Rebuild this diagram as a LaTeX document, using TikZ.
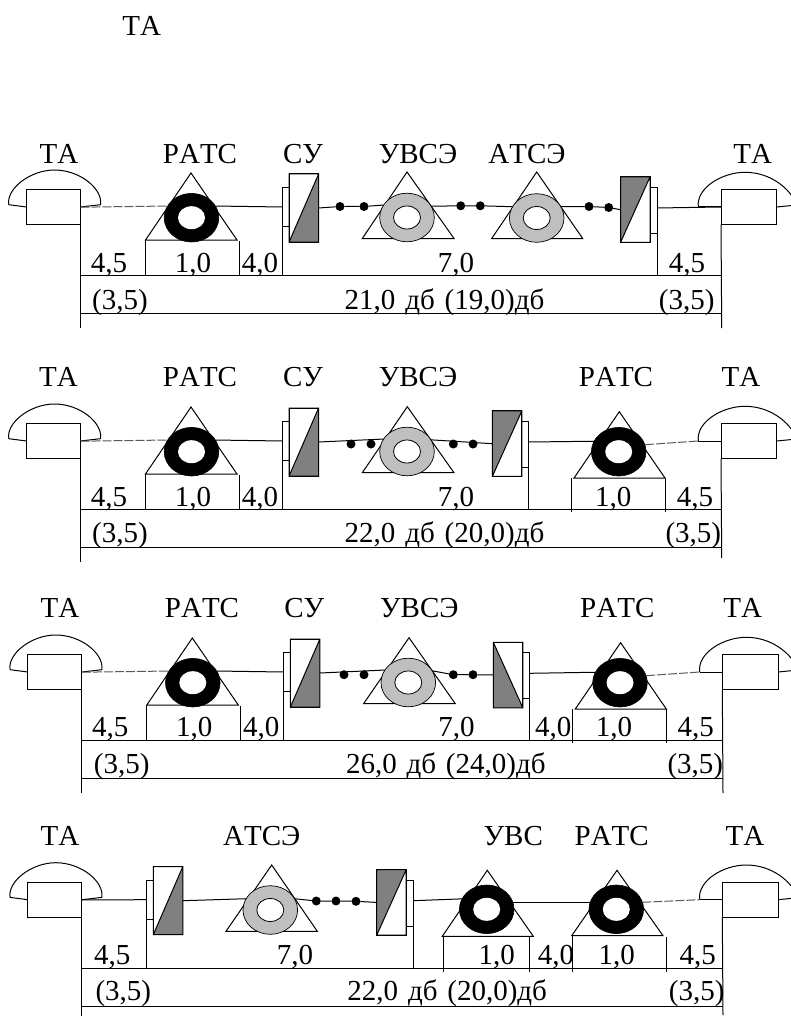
\documentclass[tikz,border=0pt]{standalone}
\usepackage{fontspec}
\setmainfont[Kerning=Off]{Liberation Serif}
\usetikzlibrary{shapes.geometric}
\newcount\lblc
\tikzset{
  ln/.style={line width=1pt,black},
  dashln/.style={line width=1pt,black!65,dash pattern=on 9pt off 2pt},
  lbl/.style={anchor=base,inner sep=0pt,outer sep=0pt,font=\fontsize{29}{30}\selectfont},
  outerblack/.style={ellipse,draw=black,fill=black,inner sep=0pt,outer sep=0pt,minimum width=54.6pt,minimum height=48.6pt,line width=0.6pt},
  outergray/.style={ellipse,draw=black,fill=black!25,inner sep=0pt,outer sep=0pt,minimum width=54.6pt,minimum height=48.6pt,line width=0.7pt},
  innerblack/.style={ellipse,fill=white,inner sep=0pt,outer sep=0pt,minimum width=27pt,minimum height=23pt},
  innergray/.style={ellipse,draw=black,fill=white,inner sep=0pt,outer sep=0pt,minimum width=27pt,minimum height=23pt,line width=0.8pt},
  blk/.style={rectangle,draw=black,fill=white,inner sep=0pt,outer sep=0pt,line width=1pt},
  dotnode/.style={circle,fill=black,inner sep=0pt,outer sep=0pt,minimum size=9pt},
}
\newcommand{\lbltxt}[3]{\global\advance\lblc by 1 \node[lbl] (t\the\lblc) at (#1,#2) {\spaceskip=0.34em\relax #3};}
% triangle: apex x, apex y, left, right, base y
\newcommand{\trng}[5]{\draw[ln] (#1,#2) -- (#3,#5) -- (#4,#5) -- cycle;}
% donut: name, kind, cx, cy
\newcommand{\donut}[4]{\node[outer#2] (#1) at (#3,#4) {}; \node[inner#2] (#1-i) at (#3,#4) {};}
\newcommand{\dotn}[3]{\node[dotnode] (#1) at (#2,#3) {};}
% SU with small block on the left: name, x of small block left side
\newcommand{\suL}[2]{%
  \node[blk,minimum width=6.6pt,minimum height=39.4pt] (#1-s) at ({#2+3.3},207) {};
  \node[blk,minimum width=29.5pt,minimum height=68pt] (#1) at ({#2+6.6+14.75},208) {};
  \fill[black!50] (#1.south west) -- (#1.north east) -- (#1.south east) -- cycle;
  \draw[ln,black] (#1.south west) -- (#1.north east) (#1.north west) rectangle (#1.south east);
  \draw[ln] (#1-s.south west) -- (#2,275.7);}
% SU with small block on the right: name, x of big block left side
\newcommand{\suR}[2]{%
  \node[blk,minimum width=7pt,minimum height=46pt] (#1-s) at ({#2+29.5+3.5},210.3) {};
  \node[blk,minimum width=29.5pt,minimum height=65.5pt] (#1) at ({#2+14.75},209.7) {};
  \coordinate (#1-p) at ({#2+36.5},208);
  \fill[black!50] (#1.south west) -- (#1.north east) -- (#1.north west) -- cycle;
  \draw[ln,black] (#1.south west) -- (#1.north east) (#1.north west) rectangle (#1.south east);
  \draw[ln] (#1-s.south east) -- ({#2+36.5},275.7);}
\newcommand{\suRb}[2]{%
  \node[blk,minimum width=7pt,minimum height=46pt] (#1-s) at ({#2+29.5+3.5},210.3) {};
  \node[blk,minimum width=29.5pt,minimum height=65.5pt] (#1) at ({#2+14.75},210) {};
  \coordinate (#1-p) at ({#2+36.5},208.3);
  \fill[black!50] (#1.north west) -- (#1.south east) -- (#1.south west) -- cycle;
  \draw[ln,black] (#1.north west) -- (#1.south east) (#1.north west) rectangle (#1.south east);
  \draw[ln] (#1-s.south east) -- ({#2+36.5},275.7);}
% frame: phones, base lines. #1 prefix, #2 bottom end of the right vertical
\newcommand{\frameRow}[2]{%
  \draw[ln] (26.5,207) -- (8.8,204.7) .. controls (6,189) and (30,170) .. (54.5,170)
     .. controls (80,170) and (103,189) .. (100.5,204.7) -- (80.5,207);
  \node[blk,minimum width=54pt,minimum height=35.2pt] (#1-pl) at (53.5,207.2) {};
  \draw[ln] (698.3,207) .. controls (696,188) and (722,172.3) .. (745,172.3)
     .. controls (770,172.3) and (790,188) .. (797,205) -- (776.7,207);
  \draw[ln] (721,207) -- (698.3,207);
  \node[blk,minimum width=55.7pt,minimum height=35pt] (#1-pr) at (748.85,207) {};
  \coordinate (#1-a) at (80.5,275.7); \coordinate (#1-b) at (721.7,275.7);
  \coordinate (#1-c) at (80.5,313.5); \coordinate (#1-d) at (721.7,313.5);
  \draw[ln] (#1-pl.south east) -- (80.5,327.5);
  \draw[ln] (#1-pr.south west) -- (721.7,#2);
  \draw[ln] (#1-a) -- (#1-b);
  \draw[ln] (#1-c) -- (#1-d);}
\begin{document}
\begin{tikzpicture}[x=1pt,y=-1pt]
\useasboundingbox (0,0) rectangle (791,1016);
\fill[white] (0,0) rectangle (791,1016);
\clip (0,0) rectangle (791,1016);
\lbltxt{141.7}{36}{ТА}

% ---------- row 1 ----------
\begin{scope}
\frameRow{a}{328}
\trng{191}{173}{145.5}{237}{240}
\donut{a1}{black}{191.5}{217.7}
\suL{a2}{282.5}
\trng{407}{172}{362.3}{454}{238.5}
\donut{a3}{gray}{407}{217.5}
\trng{536.7}{172}{491.7}{582.7}{238.5}
\donut{a4}{gray}{536.7}{218}
\suR{a5}{620.5}
\dotn{a6}{340}{206.5}\dotn{a7}{364}{206.5}
\dotn{a8}{460.7}{205.8}\dotn{a9}{480.3}{205.8}
\dotn{a10}{589}{206.5}\dotn{a11}{608.7}{207.5}
\draw[dashln] (a-pl.east) -- (a1.154);
\draw[ln] (a1.26) -- (a2-s.west);
\draw[ln] (a2.east) -- (a6) -- (a7) -- (a3.152);
\draw[ln] (a3.25) -- (a8) -- (a9) -- (a4.155);
\draw[ln] (a4.25) -- (a10) -- (a11) -- (a5.west);
\draw[ln] (a5-p) -- (a-pr.west);
\draw[ln] (145.5,240) -- (145.5,275.7) (239,241) -- (239,275.7);
\lbltxt{59}{163.3}{ТА}\lbltxt{200}{163.3}{РАТС}\lbltxt{303}{163.3}{СУ}
\lbltxt{418}{163.3}{УВСЭ}\lbltxt{527}{163.3}{АТСЭ}\lbltxt{752.7}{163.3}{ТА}
\lbltxt{109}{272.5}{4,5}\lbltxt{193}{272.5}{1,0}\lbltxt{260}{272.5}{4,0}
\lbltxt{456}{272.5}{7,0}\lbltxt{687}{272.5}{4,5}
\lbltxt{120}{309.5}{(3,5)}\lbltxt{444.5}{309.5}{21,0 дб (19,0)дб}\lbltxt{686.7}{309.5}{(3,5)}
\end{scope}

% ---------- row 2 ----------
\begin{scope}[shift={(0,234)}]
\frameRow{b}{324}
\trng{191}{173}{145.5}{237}{240}
\donut{b1}{black}{191.5}{217.7}
\suL{b2}{282.5}
\trng{407.3}{172.7}{362.3}{454}{238.7}
\donut{b3}{gray}{407}{217.5}
\suR{b5}{492.3}
\trng{619.3}{177.7}{574}{665}{244}
\donut{b6}{black}{618.7}{217.7}
\dotn{b7}{351}{210}\dotn{b8}{371}{210}
\dotn{b9}{453.3}{210}\dotn{b10}{473}{210}
\draw[dashln] (b-pl.east) -- (b1.154);
\draw[ln] (b1.26) -- (b2-s.west);
\draw[ln] (b2.east) -- (b3.152);
\draw[ln] (b3.26) -- (b5.west);
\draw[ln] (b5-p) -- (b6.157);
\draw[dashln] (b6.15) -- (698.3,207);
\draw[ln] (145.5,240) -- (145.5,275.7) (239,241) -- (239,275.7);
\draw[ln] (571.3,244) -- (571.3,278.3) (665,244) -- (665,278.3);
\lbltxt{58.5}{152.7}{ТА}\lbltxt{200}{152.7}{РАТС}\lbltxt{303}{152.7}{СУ}
\lbltxt{418}{152.7}{УВСЭ}\lbltxt{616}{152.7}{РАТС}\lbltxt{741}{152.7}{ТА}
\lbltxt{109}{272}{4,5}\lbltxt{193}{272}{1,0}\lbltxt{260}{272}{4,0}
\lbltxt{456}{272}{7,0}\lbltxt{613.3}{272}{1,0}\lbltxt{695}{272}{4,5}
\lbltxt{120}{308}{(3,5)}\lbltxt{444.5}{308}{22,0 дб (20,0)дб}\lbltxt{693.3}{308}{(3,5)}
\end{scope}

% ---------- row 3 ----------
\begin{scope}[shift={(1.3,465)}]
\frameRow{c}{328}
\trng{191}{173}{145.5}{237}{240}
\donut{c1}{black}{191.5}{217.7}
\suL{c2}{282.5}
\trng{407.7}{172.7}{362.3}{454}{238.7}
\donut{c3}{gray}{407}{217.5}
\suRb{c5}{492}
\trng{619.3}{177.7}{574}{665}{244}
\donut{c6}{black}{618.7}{217.7}
\dotn{c7}{342.7}{209.7}\dotn{c8}{362.7}{209.7}
\dotn{c9}{452}{209.7}\dotn{c10}{471.7}{209.7}
\draw[dashln] (c-pl.east) -- (c1.154);
\draw[ln] (c1.26) -- (c2-s.west);
\draw[ln] (c2.east) -- (c3.152);
\draw[ln] (c3.26) -- (c9) -- (c10) -- (c5.west);
\draw[ln] (c5-p) -- (c6.157);
\draw[dashln] (c6.15) -- (698.3,207);
\draw[ln] (145.5,240) -- (145.5,275.7) (239,241) -- (239,275.7);
\draw[ln] (571.3,244) -- (571.3,278.3) (665.4,244) -- (665.4,278.3);
\lbltxt{58.7}{152.5}{ТА}\lbltxt{200.7}{152.5}{РАТС}\lbltxt{303}{152.5}{СУ}
\lbltxt{418}{152.5}{УВСЭ}\lbltxt{616}{152.5}{РАТС}\lbltxt{741.4}{152.5}{ТА}
\lbltxt{109}{271.7}{4,5}\lbltxt{193}{271.7}{1,0}\lbltxt{260}{271.7}{4,0}
\lbltxt{455.3}{271.7}{7,0}\lbltxt{552}{271.7}{4,0}\lbltxt{612.7}{271.7}{1,0}\lbltxt{694.4}{271.7}{4,5}
\lbltxt{120.4}{308}{(3,5)}\lbltxt{444.5}{308}{26,0 дб (24,0)дб}\lbltxt{694}{308}{(3,5)}
\end{scope}

% ---------- row 4 ----------
\begin{scope}[shift={(1.3,692.7)}]
\frameRow{d}{322.5}
\suL{d1}{145.4}
\trng{270.4}{172.3}{224.7}{316}{238.6}
\donut{d2}{gray}{269}{217.3}
\suR{d3}{375.4}
\trng{486}{177.6}{441}{532}{243.6}
\donut{d4}{black}{485.4}{216.6}
\trng{615.7}{177.6}{570.4}{661.7}{243}
\donut{d5}{black}{615}{216.6}
\dotn{d6}{315}{208.3}\dotn{d7}{334.7}{208.3}\dotn{d8}{354.7}{208.6}
\draw[ln] (d-pl.east) -- (d1-s.west);
\draw[ln] (d1.east) -- (d2.155);
\draw[ln] (d2.25) -- (d6) -- (d7) -- (d8) -- (d3.west);
\draw[ln] (d3-p) -- (d4.157);
\draw[ln] (d4.15) -- (d5.165);
\draw[dashln] (d5.15) -- (698.3,207);
\draw[ln] (441.7,243.6) -- (441.7,279) (528,243.6) -- (528,279);
\draw[ln] (571.4,243) -- (571.4,279) (665.4,244) -- (665.4,279);
\lbltxt{58.7}{152.3}{ТА}\lbltxt{260.4}{152.3}{АТСЭ}\lbltxt{512}{152.3}{УВС}
\lbltxt{610.4}{152.3}{РАТС}\lbltxt{743.7}{152.3}{ТА}
\lbltxt{111}{271.7}{4,5}\lbltxt{293.7}{271.7}{7,0}\lbltxt{495.4}{271.7}{1,0}
\lbltxt{554.7}{271.7}{4,0}\lbltxt{615.4}{271.7}{1,0}\lbltxt{696.4}{271.7}{4,5}
\lbltxt{122}{308}{(3,5)}\lbltxt{445.9}{308}{22,0 дб (20,0)дб}\lbltxt{695.4}{308}{(3,5)}
\end{scope}
\end{tikzpicture}
\end{document}
